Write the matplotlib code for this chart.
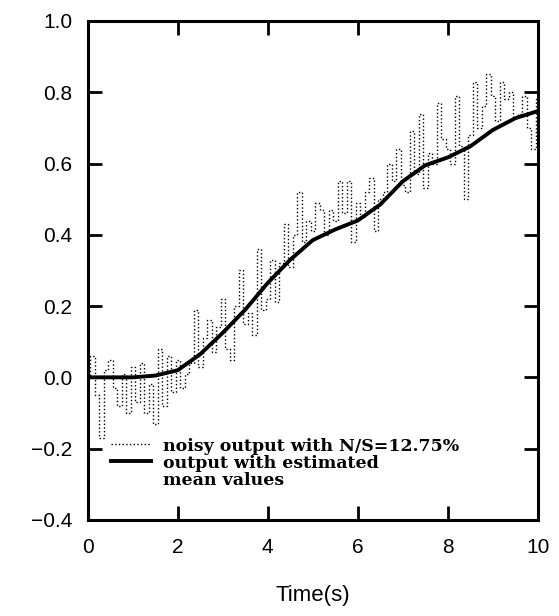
import numpy as np
import matplotlib
matplotlib.use('Agg')
import matplotlib.pyplot as plt
from matplotlib.lines import Line2D

#-------------------------------------------------
#   data
#-------------------------------------------------
t_noisy = np.arange(0, 10.01, 0.1)
y_noisy = [0.00, 0.06, -0.05, -0.17, 0.02, 0.05, -0.03, -0.08, 0.01, -0.10,
           0.03, -0.07, 0.04, -0.10, -0.02, -0.13, 0.08, -0.08, 0.06, -0.04,
           0.05, -0.03, 0.01, 0.04, 0.19, 0.03, 0.11, 0.16, 0.07, 0.14,
           0.22, 0.08, 0.05, 0.20, 0.30, 0.15, 0.18, 0.12, 0.36, 0.19,
           0.22, 0.33, 0.21, 0.32, 0.43, 0.31, 0.40, 0.52, 0.38, 0.44,
           0.41, 0.49, 0.47, 0.40, 0.47, 0.44, 0.55, 0.46, 0.55, 0.38,
           0.49, 0.45, 0.52, 0.56, 0.41, 0.50, 0.52, 0.60, 0.55, 0.64,
           0.54, 0.52, 0.69, 0.57, 0.74, 0.53, 0.63, 0.60, 0.77, 0.67,
           0.64, 0.60, 0.79, 0.65, 0.50, 0.68, 0.83, 0.70, 0.76, 0.85,
           0.79, 0.72, 0.83, 0.78, 0.80, 0.73, 0.74, 0.79, 0.70, 0.64,
           0.78]

t_mean = [0.0, 0.5, 1.0, 1.5, 2.0, 2.5, 3.0, 3.5, 4.0, 4.5, 5.0,
          5.5, 6.0, 6.5, 7.0, 7.5, 8.0, 8.5, 9.0, 9.5, 10.0]
y_mean = [0.0, 0.0, 0.0, 0.005, 0.02, 0.065, 0.125, 0.19, 0.265, 0.33, 0.385,
          0.415, 0.44, 0.485, 0.55, 0.595, 0.617, 0.648, 0.694, 0.727, 0.747]

label_noisy = 'noisy output with N/S=12.75%'
label_mean = ['output with estimated', 'mean values']

xticks = [0, 2, 4, 6, 8, 10]
yticks = [-0.4, -0.2, 0.0, 0.2, 0.4, 0.6, 0.8, 1.0]

#-------------------------------------------------
plt.rcParams['font.family'] = ['Liberation Sans', 'DejaVu Sans']

fig = plt.figure(figsize=(5.59, 6.16), dpi=100)
ax = fig.add_axes([0.157, 0.156, 0.805, 0.810])

# noisy output: dotted, mostly vertical jumps
ax.plot(t_noisy, y_noisy, color='black', linestyle=':', linewidth=1.0,
        drawstyle='steps-mid')
ax.plot(t_mean, y_mean, color='black', linestyle='-', linewidth=2.8)

ax.set_xlim(0, 10)
ax.set_ylim(-0.4, 1.0)
ax.set_xticks(xticks)
ax.set_yticks(yticks)
ax.set_xticklabels([str(v) for v in xticks])
ax.set_yticklabels(['%.1f' % v if v >= 0 else '\u2212%.1f' % abs(v) for v in yticks])
ax.tick_params(direction='in', length=10, width=2, labelsize=15,
               top=True, right=True)
ax.tick_params(axis='x', pad=13)
ax.tick_params(axis='y', pad=11)
for s in ax.spines.values():
    s.set_linewidth(2.2)

ax.set_xlabel('Time(s)', fontsize=16, labelpad=20)

# legend: third row carries the second line of the mean label
handles = [Line2D([], [], color='black', linestyle=':', linewidth=1.0),
           Line2D([], [], color='black', linestyle='-', linewidth=2.8),
           Line2D([], [], color='none')]
leg = ax.legend(handles, [label_noisy] + label_mean, loc='lower left',
                bbox_to_anchor=(0.02, 0.035), frameon=False, handlelength=2.3,
                handletextpad=0.7, labelspacing=0.0, borderpad=0.3,
                prop={'family': 'DejaVu Serif', 'weight': 'bold', 'size': 12.5})

plt.savefig('out.png', dpi=100)
